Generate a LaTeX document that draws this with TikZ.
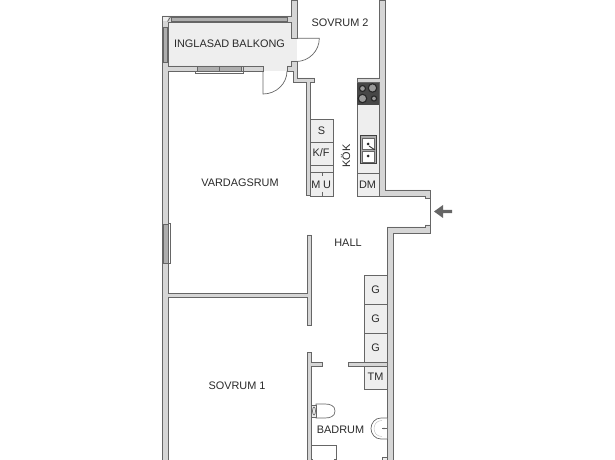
\documentclass[tikz,border=0pt]{standalone}
\usepackage{fontspec}
\setmainfont{Liberation Sans}
\definecolor{wallc}{HTML}{D6D6D6}
\definecolor{edgec}{HTML}{666666}
\definecolor{unitc}{HTML}{EEEEEE}
\definecolor{txt}{HTML}{2A2A2A}
\definecolor{winc}{HTML}{AEAEAE}
\tikzset{
  wall/.style={fill=wallc,draw=edgec,line width=.8bp},
  unit/.style={fill=unitc,draw=edgec,line width=.7bp},
  win/.style={fill=winc,draw=edgec,line width=.8bp},
  thin/.style={draw=edgec,line width=.7bp},
  lab/.style={text=txt,font=\fontsize{10.9bp}{12bp}\selectfont,inner sep=0pt},
  burner/.style={draw=black!85,fill=black!40,line width=1.1bp}
}
\begin{document}
\begin{tikzpicture}[x=1bp,y=-1bp]
\useasboundingbox (0,0) rectangle (615,460);
% balcony floor
\fill[unitc] (168,22) rectangle (291,66);
\fill[unitc] (263,66) rectangle (287,71);
\fill[unitc] (291,38) rectangle (297,61);
% units
\draw[unit] (357,81) rectangle (379.5,196);
\draw[thin] (357,173.5) -- (379.5,173.5);
\draw[unit] (310.5,119) rectangle (333,196);
\draw[thin] (310.5,142) -- (333,142) (310.5,165) -- (333,165) (310.5,172) -- (333,172);
\draw[thin] (322,172) -- (322,176) (322,192) -- (322,196);
\draw[unit] (364,275) rectangle (387,389);
\draw[thin] (364,304) -- (387,304) (364,333) -- (387,333);
% stove
\fill[black!72] (357,81.5) rectangle (379.5,105);
\draw[burner] (362.5,88.5) circle (3);
\draw[burner] (372.5,88) circle (4.2);
\draw[burner] (362.5,98.5) circle (4.2);
\draw[burner] (374,98.5) circle (2.6);
% sink
\draw[draw=black!75,fill=winc,line width=1bp] (360,136) rectangle (376,164);
\draw[draw=black!60,fill=white,line width=.4bp] (362,138) rectangle (374,149);
\draw[draw=black!60,fill=white,line width=.4bp] (362,151) rectangle (374,162);
\fill[black!85] (368,144) circle (1.5) (368,156) circle (1.5);
\draw[black!80,line width=.9bp] (369,146) -- (375,150);
% walls
\draw[wall] (162,460) -- (162,16) -- (291,16) -- (291,0) -- (297,0) -- (297,38) -- (291,38) -- (291,22) -- (168,22) -- (168,66) -- (243,66) -- (243,71) -- (168,71) -- (168,293) -- (307,293) -- (307,235) -- (311,235) -- (311,325.5) -- (307,325.5) -- (307,297.5) -- (168,297.5) -- (168,460) -- cycle;
\draw[wall] (243,66) rectangle (263,71);
\draw[wall] (291,61) -- (297,61) -- (297,78) -- (314.5,78) -- (314.5,82) -- (310.5,82) -- (310.5,195.5) -- (306.5,195.5) -- (306.5,82) -- (293,82) -- (293,71) -- (287,71) -- (287,66) -- (291,66) -- cycle;
\draw[wall] (379.5,0) -- (385,0) -- (385,190) -- (430,190) -- (430,198) -- (425,198) -- (425,196) -- (379.5,196) -- (379.5,82) -- (357,82) -- (357,78) -- (379.5,78) -- cycle;
\draw[wall] (393,460) -- (393,233) -- (430,233) -- (430,225) -- (425,225) -- (425,227) -- (387,227) -- (387,460);
\draw[wall] (348,362) rectangle (387,366);
\draw[wall] (311,460) -- (311,366) -- (322,366) -- (322,362) -- (311,362) -- (311,352) -- (307,352) -- (307,460);
% entrance
\draw[thin,line width=.4bp] (430,198) -- (430,225);
% corner of the balcony
\fill[unitc] (163,17) rectangle (167.5,21.5);
\draw[thin] (167.5,21.5) -- (170.5,17);
% windows
\draw[win] (171,17.5) rectangle (287,21);
\draw[win] (163.5,27) rectangle (167,62);
\draw[win] (163.5,224) rectangle (168,263);
\draw[thin,fill=white] (168,223) rectangle (170.5,263);
\draw[thin,fill=white] (195,71) rectangle (243,73);
\draw[win] (197,66.5) rectangle (241,71);
\draw[thin] (219,66) -- (219,71);
% doors
\draw[thin] (297,38.3) -- (319.3,38.3) arc[start angle=0,end angle=90,radius=23.2];
\draw[thin] (263,71) -- (263,94) arc[start angle=-90,end angle=0,x radius=24,y radius=-23];
% toilet
\draw[thin,fill=white] (335,411) .. controls (335,405.5) and (330,404) .. (325,404) -- (316,404) -- (316,418) -- (325,418) .. controls (330,418) and (335,416.5) .. (335,411) -- cycle;
\draw[thin,fill=unitc] (311,405) rectangle (316,417);
\draw[thin] (314,411) ellipse[x radius=1.5,y radius=4];
% basin
\draw[thin,fill=white] (387,418) -- (381,418) .. controls (375,418) and (371,423) .. (371,428.5) .. controls (371,434) and (375,439) .. (381,439) -- (387,439);
\draw[draw=edgec!45,line width=.4bp] (382,420.5) .. controls (377,420.5) and (374,424) .. (374,428.5) .. controls (374,433) and (377,436.5) .. (382,436.5);
\draw[thin] (382,428.5) -- (387,428.5);
\fill[edgec] (384,428.5) circle (.8);
% bath
\draw[thin] (311,445) -- (336,445) -- (336,460);
\draw[thin] (334,459) -- (336,459) (311,459) -- (313,459);
\draw[thin,fill=unitc] (382.5,460) -- (382.5,457) -- (387,457) -- (387,460);
% entry arrow
\fill[edgec] (434,211.5) -- (443,205) -- (443,209.8) -- (452,209.8) -- (452,213.2) -- (443,213.2) -- (443,218) -- cycle;
% labels
\node[lab] (balkong) at (229.5,43.5) {INGLASAD BALKONG};
\node[lab] (sovrum2) at (340,22.5) {SOVRUM 2};
\node[lab] (vardag) at (240,182.5) {VARDAGSRUM};
\node[lab] (kok) at (345.5,156) [rotate=90] {KÖK};
\node[lab] (hall) at (348,243) {HALL};
\node[lab] (sovrum1) at (237,386) {SOVRUM 1};
\node[lab] (badrum) at (340.5,429.5) {BADRUM};
\node[lab] (s) at (321.5,130.5) {S};
\node[lab] (kf) at (321,153) {K/F};
\node[lab] (m) at (316,185) {M};
\node[lab] (u) at (327,185) {U};
\node[lab] (dm) at (367.5,185) {DM};
\node[lab] (g1) at (375.5,290) {G};
\node[lab] (g2) at (375.5,319) {G};
\node[lab] (g3) at (375.5,348) {G};
\node[lab] (tm) at (375.5,377) {TM};
\end{tikzpicture}
\end{document}
